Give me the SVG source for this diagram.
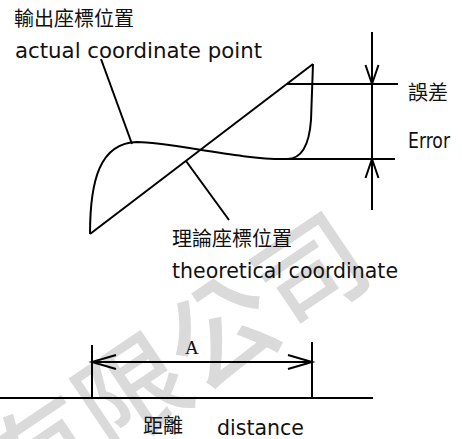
<svg xmlns="http://www.w3.org/2000/svg" width="462" height="439" viewBox="0 0 462 439">
  <style>
    .ln { fill: none; stroke: #000; stroke-width: 2; stroke-linecap: butt; }
    .cjk { font-family: "Noto Sans CJK TC", "Noto Sans CJK SC", sans-serif; font-size: 20px; fill: #111; }
    .lat { font-family: "DejaVu Sans", sans-serif; font-size: 21px; fill: #111; }
    .ser { font-family: "Liberation Serif", serif; font-size: 19px; fill: #111; }
    .wm { font-family: "Noto Sans CJK TC", "Noto Sans CJK SC", sans-serif; font-size: 108px; font-weight: 500; fill: #dadada; }
  </style>
  <defs>
    <marker id="arrowBig" viewBox="0 0 24 14" refX="24" refY="7" markerWidth="24" markerHeight="14" markerUnits="userSpaceOnUse" orient="auto-start-reverse" overflow="visible">
      <path d="M0,0 L24,7 L0,14" fill="none" stroke="#000" stroke-width="2"/>
    </marker>
    <marker id="arrowSmall" viewBox="0 0 19 13" refX="19" refY="6.5" markerWidth="19" markerHeight="13" markerUnits="userSpaceOnUse" orient="auto" overflow="visible">
      <path d="M0,0 L19,6.5 L0,13" fill="none" stroke="#000" stroke-width="2"/>
    </marker>
  </defs>
  <rect width="462" height="439" fill="#fff"/>

  <g id="watermark">
    <text class="wm" transform="translate(20,516) rotate(-34)">有限公司</text>
  </g>

  <g id="actual-curve">
    <path class="ln" d="M90,234 C90,180 100,143 137,142 C170,142 240,160 287,159 C300,159 309,148 311,120 L313,64"/>
  </g>
  <g id="theoretical-line">
    <path class="ln" d="M90,234 L313,64"/>
  </g>

  <g id="connectors">
    <line class="ln" x1="101" y1="59" x2="132" y2="144"/>
    <line class="ln" x1="186" y1="161" x2="229" y2="220"/>
    <line class="ln" x1="287" y1="84" x2="398" y2="84"/>
    <line class="ln" x1="287" y1="159" x2="395" y2="159"/>
    <line class="ln" x1="372" y1="32" x2="372" y2="84" marker-end="url(#arrowSmall)"/>
    <line class="ln" x1="372" y1="84" x2="372" y2="159"/>
    <line class="ln" x1="372" y1="210" x2="372" y2="159" marker-end="url(#arrowSmall)"/>
    <line class="ln" x1="0" y1="398" x2="373" y2="398"/>
    <line class="ln" x1="92" y1="345" x2="92" y2="398"/>
    <line class="ln" x1="312" y1="342" x2="312" y2="398"/>
    <line class="ln" x1="92" y1="362" x2="312" y2="362" marker-start="url(#arrowBig)" marker-end="url(#arrowBig)"/>
  </g>

  <g id="label-actual">
    <text class="cjk" x="14" y="26">輸出座標位置</text>
    <text class="lat" x="15" y="58" textLength="247" lengthAdjust="spacingAndGlyphs">actual coordinate point</text>
  </g>
  <g id="label-error">
    <text class="cjk" x="408" y="100">誤差</text>
    <text class="lat" x="408" y="148" textLength="42" lengthAdjust="spacingAndGlyphs">Error</text>
  </g>
  <g id="label-theoretical">
    <text class="cjk" x="172" y="246">理論座標位置</text>
    <text class="lat" x="172" y="278" textLength="226" lengthAdjust="spacingAndGlyphs">theoretical coordinate</text>
  </g>
  <g id="label-A">
    <text class="ser" x="185" y="354">A</text>
  </g>
  <g id="label-distance">
    <text class="cjk" x="143" y="433">距離</text>
    <text class="lat" x="217" y="435" textLength="87" lengthAdjust="spacingAndGlyphs">distance</text>
  </g>
</svg>
